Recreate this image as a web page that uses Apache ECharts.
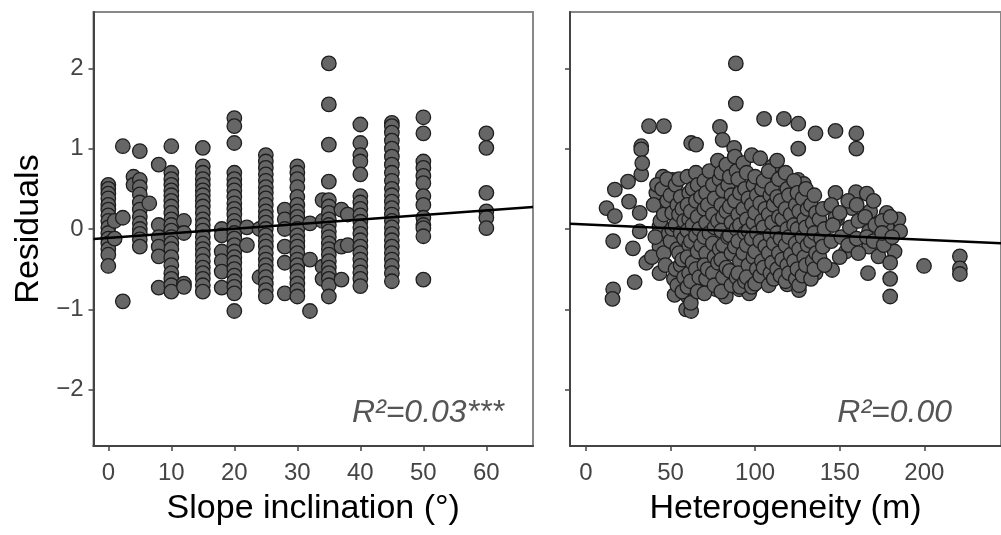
<!DOCTYPE html>
<html>
<head>
<meta charset="utf-8">
<script src="https://cdn.jsdelivr.net/npm/echarts@6/dist/echarts.min.js"></script>
<style>
html,body{margin:0;padding:0;background:#fff;}
#chart{width:1001px;height:535px;}
</style>
</head>
<body>
<div id="chart"></div>
<script>
// ---------- DATA ----------
const yTicks = [-2, -1, 0, 1, 2];
const slopeTicks = [0, 10, 20, 30, 40, 50, 60];
const heteroTicks = [0, 50, 100, 150, 200];

// Slope inclination: x positions of the columns and residuals in each column
const slopeX = [0, 1, 2.3, 4, 5, 6.5, 8, 10, 12, 15, 18, 20, 22, 24, 25, 28, 30, 32, 34, 35, 37, 38, 40, 45, 50, 60];
const slopeY = [
  [0.55, 0.5, 0.44, 0.38, 0.3, 0.24, 0.17, 0.1, 0.02, -0.05, -0.12, -0.18, -0.25, -0.32, -0.46],
  [0.1, -0.12],
  [1.03, 0.14, -0.9],
  [0.65, 0.55],
  [0.97, 0.61, 0.52, 0.43, 0.33, 0.24, 0.15, 0.07, 0.0, -0.06, -0.13, -0.22],
  [0.32],
  [0.8, 0.05, -0.1, -0.22, -0.34, -0.73],
  [1.03, 0.7, 0.62, 0.55, 0.48, 0.42, 0.35, 0.28, 0.2, 0.12, 0.05, -0.02, -0.1, -0.18, -0.25, -0.35, -0.45, -0.55, -0.62, -0.7, -0.78],
  [0.1, -0.05, -0.68, -0.72],
  [1.01, 0.78, 0.7, 0.62, 0.55, 0.48, 0.42, 0.35, 0.28, 0.2, 0.12, 0.05, -0.02, -0.1, -0.18, -0.25, -0.32, -0.4, -0.48, -0.55, -0.62, -0.7, -0.78],
  [0.0, -0.08, -0.28, -0.4, -0.53, -0.73],
  [1.38, 1.28, 1.07, 0.7, 0.62, 0.55, 0.48, 0.4, 0.32, 0.25, 0.18, 0.1, 0.03, -0.05, -0.12, -0.2, -0.28, -0.35, -0.42, -0.5, -0.58, -0.65, -0.72, -0.8, -1.02],
  [0.02, -0.2],
  [0.0, -0.6],
  [0.92, 0.84, 0.76, 0.68, 0.6, 0.52, 0.45, 0.38, 0.3, 0.22, 0.15, 0.08, 0.0, -0.08, -0.15, -0.22, -0.3, -0.38, -0.45, -0.52, -0.6, -0.68, -0.76, -0.84],
  [0.24, 0.12, 0.0, -0.22, -0.42, -0.8],
  [0.78, 0.7, 0.62, 0.52, 0.4, 0.3, 0.22, 0.15, 0.08, 0.0, -0.08, -0.15, -0.22, -0.3, -0.38, -0.45, -0.52, -0.6, -0.68, -0.76, -0.84],
  [0.07, -0.38, -1.02],
  [0.36, 0.1, -0.47, -0.62],
  [2.06, 1.55, 1.05, 0.59, 0.36, 0.28, 0.2, 0.12, 0.05, -0.03, -0.1, -0.18, -0.25, -0.32, -0.4, -0.48, -0.55, -0.62, -0.7, -0.84],
  [0.24, -0.22, -0.63],
  [0.18, -0.2],
  [1.3, 1.07, 0.92, 0.84, 0.68, 0.41, 0.33, 0.25, 0.17, 0.09, 0.02, -0.06, -0.14, -0.22, -0.3, -0.38, -0.46, -0.54, -0.62, -0.71],
  [1.32, 1.28, 1.2, 1.1, 1.0, 0.9, 0.8, 0.7, 0.6, 0.5, 0.42, 0.34, 0.26, 0.18, 0.1, 0.02, -0.06, -0.14, -0.22, -0.3, -0.38, -0.46, -0.55, -0.65],
  [1.39, 1.19, 0.84, 0.76, 0.66, 0.57, 0.41, 0.3, 0.14, 0.05, 0.01, -0.09, -0.63],
  [1.19, 1.01, 0.45, 0.22, 0.14, 0.01]
];

// Heterogeneity: main cloud
const heteroCloud = [
  [40,0.3],[41,-0.1],[39,-0.35],[42,0.55],
  [45,0.5],[44,0.1],[46,-0.3],[46,0.18],
  [48,0.62],[49,-0.05],[47,-0.45],[48,0.35],
  [50,0.42],[51,0.2],[50,-0.15],[52,-0.62],[51,0.0],
  [53,0.55],[54,0.3],[53,0.05],[54,-0.25],[53,-0.5],[54,-0.7],
  [55,0.62],[56,0.4],[55,0.18],[56,-0.05],[55,-0.3],[56,-0.45],[57,-0.78],
  [57,0.25],[58,0.1],[58,-0.12],[57,-0.38],[58,-0.6],
  [60,0.65],[61,0.45],[60,0.3],[61,0.12],[60,-0.02],[61,-0.2],[60,-0.35],[61,-0.55],[60,-0.72],[62,-0.92],
  [63,0.5],[62,0.22],[63,0.05],[62,-0.15],[63,-0.42],[62,-0.65],
  [65,0.7],[66,0.55],[65,0.35],[66,0.15],[65,-0.08],[66,-0.28],[65,-0.5],[66,-0.78],
  [68,0.4],[67,0.0],[68,-0.2],[67,-0.6],
  [70,0.6],[71,0.45],[70,0.25],[71,0.08],[70,-0.1],[71,-0.3],[70,-0.45],[71,-0.62],[70,-0.8],
  [73,0.72],[72,0.3],[73,-0.05],[72,-0.5],
  [75,0.55],[76,0.38],[75,0.18],[76,0.02],[75,-0.18],[76,-0.35],[75,-0.55],[76,-0.7],
  [78,0.85],[79,0.62],[78,0.1],[79,-0.25],[78,-0.42],
  [80,0.7],[81,0.48],[80,0.3],[81,0.15],[80,-0.02],[81,-0.2],[80,-0.38],[81,-0.6],[80,-0.78],
  [83,0.8],[84,0.55],[83,0.22],[84,-0.1],[83,-0.48],
  [85,0.65],[86,0.42],[85,0.28],[86,0.08],[85,-0.08],[86,-0.3],[85,-0.52],[86,-0.7],
  [88,0.9],[89,0.72],[88,0.35],[89,0.0],[88,-0.22],[89,-0.6],
  [90,0.62],[91,0.45],[90,0.18],[91,0.05],[90,-0.15],[91,-0.4],[90,-0.55],[91,-0.72],
  [93,0.82],[94,0.5],[93,0.25],[94,-0.05],[93,-0.3],[94,-0.65],
  [95,0.7],[96,0.38],[95,0.12],[96,-0.02],[95,-0.2],[96,-0.45],[95,-0.6],
  [98,0.92],[99,0.55],[98,0.3],[99,0.08],[98,-0.12],[99,-0.35],[98,-0.72],
  [100,0.65],[101,0.42],[100,0.2],[101,-0.05],[100,-0.28],[101,-0.5],[100,-0.68],
  [103,0.88],[104,0.5],[103,0.32],[104,0.1],[103,-0.15],[104,-0.4],[103,-0.58],
  [105,0.6],[106,0.25],[105,0.02],[106,-0.22],[105,-0.48],
  [108,0.72],[109,0.42],[108,0.18],[109,-0.08],[108,-0.3],[109,-0.55],[108,-0.7],
  [110,0.5],[111,0.3],[110,0.08],[111,-0.18],[110,-0.42],[111,-0.62],
  [113,0.85],[114,0.62],[113,0.4],[114,0.15],[113,-0.05],[114,-0.3],[113,-0.5],
  [115,0.35],[116,0.12],[115,-0.12],[116,-0.38],[115,-0.58],
  [118,0.7],[119,0.5],[118,0.25],[119,0.0],[118,-0.2],[119,-0.45],[118,-0.65],
  [120,0.42],[121,0.18],[120,-0.1],[121,-0.32],[120,-0.55],
  [123,0.6],[124,0.3],[123,0.05],[124,-0.18],[123,-0.4],[124,-0.62],
  [125,0.45],[126,0.22],[125,0.0],[126,-0.25],[125,-0.5],[126,-0.7],
  [128,0.38],[129,0.12],[128,-0.1],[129,-0.35],[128,-0.58],
  [130,0.5],[131,0.25],[130,0.02],[131,-0.2],[130,-0.45],
  [133,0.3],[134,0.08],[133,-0.15],[134,-0.4],[133,-0.62],
  [135,0.42],[136,0.2],[135,-0.05],[136,-0.3],[135,-0.5],
  [138,0.12],[139,-0.12],[138,-0.35],
  [140,0.25],[141,0.0],[140,-0.22],[141,-0.45],
  [145,0.3],[146,0.05],[145,-0.15],
  [150,0.2],[151,-0.1],[150,-0.35],
  [155,0.35],[156,0.02],[155,-0.2],
  [160,0.3],[161,0.1],[160,-0.12],[161,-0.3],
  [165,0.15],[166,-0.1],
  [170,0.35],[171,0.05],[170,-0.15],
  [175,0.1],[176,-0.2],[175,-0.05],
  [180,0.15],[181,-0.1]
];
// Heterogeneity: scattered points around the cloud
const heteroOuter = [
  [88.6,2.06],[88.6,1.56],[37.3,1.28],[46.1,1.28],[79.2,1.27],[105.3,1.37],
  [32.7,1.03],[32.7,0.99],[62.2,1.07],[65.1,1.05],[80.8,1.11],[87.6,1.01],
  [16.1,-0.75],[15.7,-0.87],[28.8,-0.66],[16.1,-0.15],[12.2,0.26],[17.1,0.49],
  [24.9,0.59],[17.1,0.16],[25.5,0.34],[32.7,0.68],[33.3,0.82],[31.8,0.2],
  [31.8,-0.03],[27.8,-0.24],[35.7,-0.42],[43.5,-0.55],[41.6,0.32],[45.5,0.65],
  [41.6,0.45],[43.5,0.03],[43.5,-0.22],[51.4,0.61],[59.2,-1.0],[62.2,-1.02],
  [52.4,-0.82],[59.2,-0.67],[60.2,-0.84],[76.9,-0.75],[82.7,-0.84],[90.6,-0.75],
  [96.5,-0.8],[102.4,-0.63],
  [117,1.37],[125.5,1.31],[135.7,1.19],[147.5,1.22],[159.8,1.19],[159.8,1.0],
  [125.5,1.0],[110.2,0.78],[125.5,0.61],[128.8,0.56],[147.5,0.45],[159.6,0.46],
  [166,0.44],[148.4,0.12],[157.3,0.26],[168,0.22],[177.8,0.2],[184.7,0.12],
  [185.7,-0.03],[177.8,0.03],[167.3,-0.03],[167.3,-0.22],[182.4,-0.28],[172.9,-0.34],
  [179.8,-0.42],[179.8,-0.62],[179.8,-0.84],[166.7,-0.55],[153.7,-0.28],[145.5,-0.51],
  [199.8,-0.46],[221,-0.34],[221,-0.49],[221,-0.56],[119,-0.69],[125.9,-0.76],
  [135.7,-0.55],[147.5,0.14]
];

// Fitted lines (end points)
const slopeFit = [[-2.35, -0.124], [67.4, 0.274]];
const heteroFit = [[-9.4, 0.066], [245.3, -0.176]];

// ---------- BUILD ----------
const slopePoints = [];
slopeX.forEach((x, i) => slopeY[i].forEach(y => slopePoints.push([x, y])));
const heteroPoints = heteroOuter.concat(heteroCloud);

const FONT = 'Liberation Sans, Arial, sans-serif';
const minus = v => String(v).replace('-', '\u2212');

const pointStyle = {
  symbol: 'circle',
  symbolSize: 14.5,
  itemStyle: { color: '#666666', borderColor: '#1e1e1e', borderWidth: 1.3, opacity: 1 }
};

function xAxisCfg(grid, min, max, ticks, name) {
  return {
    type: 'value', gridIndex: grid, min: min, max: max,
    splitLine: { show: false },
    axisLine: { show: true, onZero: false, lineStyle: { color: '#444', width: 2 } },
    axisTick: { show: true, customValues: ticks, length: 5, lineStyle: { color: '#444', width: 1.5 } },
    axisLabel: { show: true, customValues: ticks, fontSize: 24, color: '#444', margin: 15, fontFamily: FONT },
    name: name, nameLocation: 'middle', nameGap: 46,
    nameTextStyle: { fontSize: 34, color: '#000', fontFamily: FONT }
  };
}
function yAxisCfg(grid, showLabels, name) {
  return {
    type: 'value', gridIndex: grid, min: -2.7, max: 2.7,
    splitLine: { show: false },
    axisLine: { show: true, onZero: false, lineStyle: { color: '#444', width: 2 } },
    axisTick: { show: true, customValues: yTicks, length: 5, lineStyle: { color: '#444', width: 1.5 } },
    axisLabel: { show: showLabels, customValues: yTicks, fontSize: 24, color: '#444', margin: 10,
                 fontFamily: FONT, formatter: v => minus(v) },
    name: name, nameLocation: 'middle', nameGap: 48, nameRotate: 90,
    nameTextStyle: { fontSize: 34, color: '#000', fontFamily: FONT }
  };
}

const chart = echarts.init(document.getElementById('chart'), null, { renderer: 'canvas' });
chart.setOption({
  animation: false,
  backgroundColor: '#fff',
  grid: [
    { left: 93.5, top: 12, width: 439.5, height: 434, show: true, borderColor: '#888', borderWidth: 2 },
    { left: 570, top: 12, width: 433, height: 434, show: true, borderColor: '#888', borderWidth: 2 }
  ],
  xAxis: [
    xAxisCfg(0, -2.35, 67.4, slopeTicks, 'Slope inclination (°)'),
    xAxisCfg(1, -9.4, 245.3, heteroTicks, 'Heterogeneity (m)')
  ],
  yAxis: [
    yAxisCfg(0, true, 'Residuals'),
    yAxisCfg(1, false, '')
  ],
  series: [
    Object.assign({ type: 'scatter', xAxisIndex: 0, yAxisIndex: 0, data: slopePoints, z: 2 }, pointStyle),
    Object.assign({ type: 'scatter', xAxisIndex: 1, yAxisIndex: 1, data: heteroPoints, z: 2 }, pointStyle),
    { type: 'line', xAxisIndex: 0, yAxisIndex: 0, data: slopeFit, symbol: 'none', z: 5,
      lineStyle: { color: '#000', width: 2.5 } },
    { type: 'line', xAxisIndex: 1, yAxisIndex: 1, data: heteroFit, symbol: 'none', z: 5,
      lineStyle: { color: '#000', width: 2.5 } }
  ],
  graphic: [
    { type: 'text', right: 1001 - 504, top: 397, style: { text: 'R²=0.03***', fontSize: 32, fontStyle: 'italic',
      fill: '#555', fontFamily: FONT } },
    { type: 'text', right: 1001 - 952, top: 397, style: { text: 'R²=0.00', fontSize: 32, fontStyle: 'italic',
      fill: '#555', fontFamily: FONT } }
  ]
});
</script>
</body>
</html>
